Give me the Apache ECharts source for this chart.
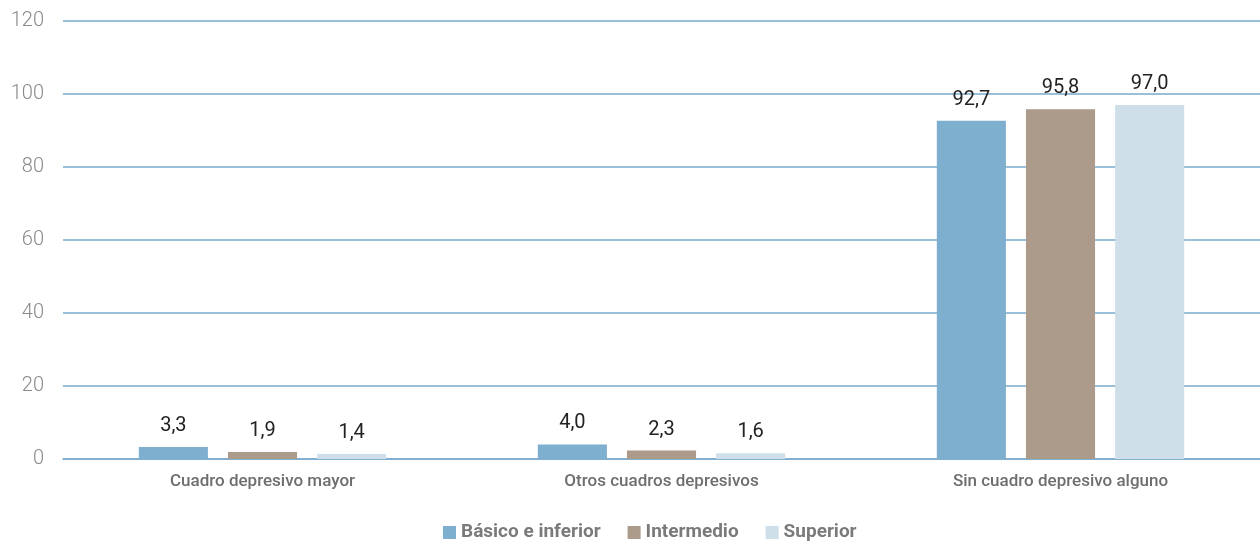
<!DOCTYPE html>
<html><head><meta charset="utf-8">
<script src="https://cdn.jsdelivr.net/npm/echarts@6/dist/echarts.min.js"></script>
<style>html,body{margin:0;padding:0;background:#fff}#c{width:1260px;height:544px}</style>
</head><body><div id="c"></div>
<script>
const categories = ['Cuadro depresivo mayor', 'Otros cuadros depresivos', 'Sin cuadro depresivo alguno'];
const seriesNames = ['Básico e inferior', 'Intermedio', 'Superior'];
const basico = [3.3, 4.0, 92.7];
const intermedio = [1.9, 2.3, 95.8];
const superior = [1.4, 1.6, 97.0];
const colors = ['#7FAFCE', '#AC9A8A', '#CFDFEA'];
const FONT = '"Roboto", sans-serif';

const chart = echarts.init(document.getElementById('c'), null, {renderer: 'canvas'});
const mk = (name, data, color) => ({
  name, type: 'bar', data, barGap: '29%', barCategoryGap: '38%',
  itemStyle: {color},
  label: {show: true, position: 'top', distance: 11, color: '#222', fontSize: 20, fontFamily: FONT,
    formatter: p => p.value.toFixed(1).replace('.', ',')}
});
chart.setOption({
  animation: false,
  grid: {left: 63, right: 0, top: 21, bottom: 85, containLabel: false},
  legend: {bottom: -3, left: 438, itemWidth: 13, itemHeight: 13, itemGap: 27,
    textStyle: {color: '#7a7a7a', fontSize: 19, fontFamily: FONT, fontWeight: 'bold'},
    icon: 'rect', data: seriesNames},
  xAxis: {type: 'category', data: categories,
    axisLine: {lineStyle: {color: '#7AAACC', width: 1.5}}, axisTick: {show: false},
    axisLabel: {color: '#6e6e6e', fontSize: 17, fontFamily: FONT, fontWeight: 500, margin: 14}},
  yAxis: {type: 'value', min: 0, max: 120, interval: 20,
    axisLine: {show: false}, axisTick: {show: false},
    axisLabel: {color: '#8a8a8a', fontSize: 20, fontFamily: FONT, fontWeight: 300, margin: 19},
    splitLine: {lineStyle: {color: '#7AAACC', width: 1.5}}},
  series: [mk(seriesNames[0], basico, colors[0]), mk(seriesNames[1], intermedio, colors[1]), mk(seriesNames[2], superior, colors[2])]
});
</script></body></html>
